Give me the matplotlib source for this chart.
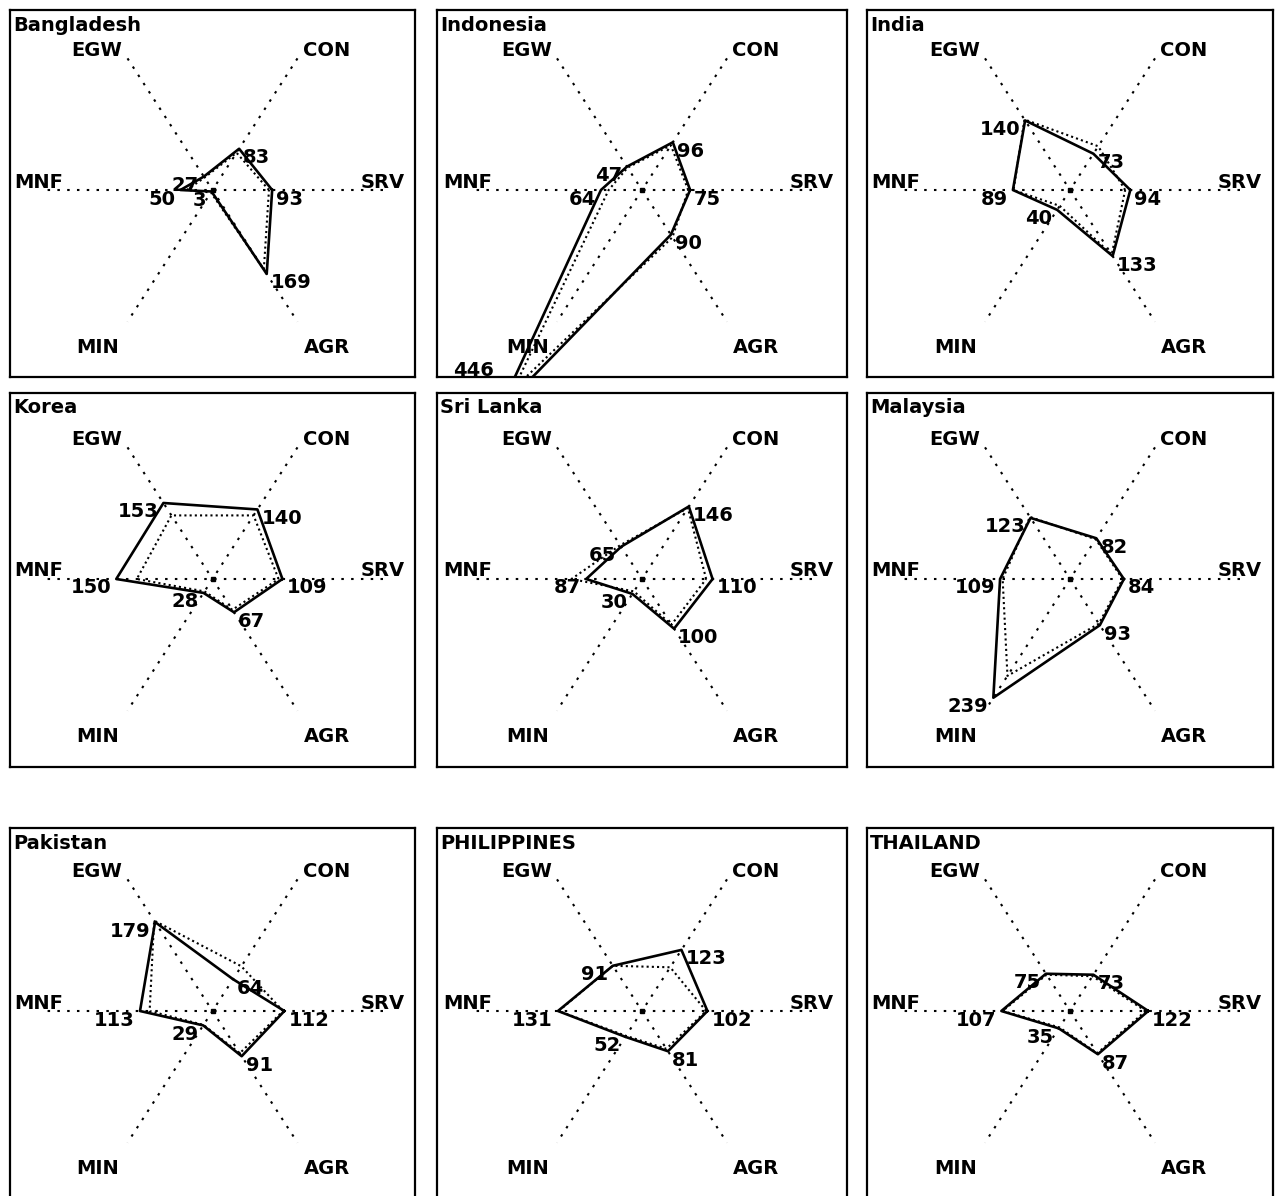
import numpy as np
import matplotlib.pyplot as plt

# 6 sectors around the star, SRV at 0 deg, counter-clockwise
sectors = ['SRV', 'CON', 'EGW', 'MNF', 'MIN', 'AGR']
angles = np.deg2rad([0, 60, 120, 180, 240, 300])
full_scale = 265.0   # value reached at end of a spoke

countries = ['Bangladesh', 'Indonesia', 'India',
             'Korea', 'Sri Lanka', 'Malaysia',
             'Pakistan', 'PHILIPPINES', 'THAILAND']

# solid line (labelled values), order SRV CON EGW MNF MIN AGR
bangladesh = [93, 83, 27, 50, 3, 169]
indonesia = [75, 96, 47, 64, 446, 90]
india = [94, 73, 140, 89, 40, 133]
korea = [109, 140, 153, 150, 28, 67]
sri_lanka = [110, 146, 65, 87, 30, 100]
malaysia = [84, 82, 123, 109, 239, 93]
pakistan = [112, 64, 179, 113, 29, 91]
philippines = [102, 123, 91, 131, 52, 81]
thailand = [122, 73, 75, 107, 35, 87]

# dotted line (unlabelled comparison values), same order
bangladesh_b = [88, 75, 25, 40, 5, 160]
indonesia_b = [72, 90, 45, 52, 400, 95]
india_b = [86, 88, 142, 88, 32, 130]
korea_b = [103, 128, 128, 118, 25, 62]
sri_lanka_b = [100, 143, 68, 110, 25, 92]
malaysia_b = [82, 80, 125, 105, 195, 90]
pakistan_b = [110, 90, 182, 98, 28, 85]
philippines_b = [100, 88, 91, 130, 50, 76]
thailand_b = [118, 70, 73, 105, 33, 85]

solid = [bangladesh, indonesia, india, korea, sri_lanka, malaysia,
         pakistan, philippines, thailand]
dotted = [bangladesh_b, indonesia_b, india_b, korea_b, sri_lanka_b, malaysia_b,
          pakistan_b, philippines_b, thailand_b]

W, H = 1280, 1196
fig = plt.figure(figsize=(W / 100, H / 100), dpi=100)
fig.patch.set_facecolor('white')

lefts = [10, 437, 867]
widths = [405, 410, 406]
tops = [10, 393, 828]
heights = [367, 374, 374]
ctops = [180, 186, 183]
sx, sy = 170.0, 152.0   # pixels per spoke length, x and y

font = dict(family='DejaVu Sans', fontweight='bold', fontsize=14, color='black')

# offsets (pixels) for sector names at spoke ends
name_pos = {'SRV': (0, 8, 'center'), 'CON': (5, 8, 'left'), 'EGW': (-5, 8, 'right'),
            'MNF': (-4, 8, 'center'), 'MIN': (-8, -26, 'right'), 'AGR': (6, -26, 'left')}

for i, name in enumerate(countries):
    r, c = divmod(i, 3)
    l, t, w, h = lefts[c], tops[r], widths[c], heights[r]
    ax = fig.add_axes([l / W, 1 - (t + h) / H, w / W, h / H])
    ax.set_xlim(-w / 2 / sx, w / 2 / sx)
    ax.set_ylim(-(h - ctops[r]) / sy, ctops[r] / sy)
    ax.set_xticks([])
    ax.set_yticks([])
    for sp in ax.spines.values():
        sp.set_linewidth(1.6)
        sp.set_color('black')

    # spokes
    for k in range(3):
        a = angles[k]
        ax.plot([np.cos(a), -np.cos(a)], [np.sin(a), -np.sin(a)],
                color='black', lw=1.5, linestyle=(0, (1.2, 3.5)))
    ax.plot(0, 0, 's', color='black', ms=3.5)

    for k, s in enumerate(sectors):
        dx, dy, ha = name_pos[s]
        ax.annotate(s, (np.cos(angles[k]), np.sin(angles[k])), xytext=(dx, dy),
                    textcoords='offset pixels', ha=ha, va='center', **font)

    # comparison polygon (dotted)
    rb = np.array(dotted[i] + [dotted[i][0]]) / full_scale
    ang = np.append(angles, angles[0])
    ax.plot(rb * np.cos(ang), rb * np.sin(ang), color='black', lw=1.5,
            linestyle=(0, (1, 1.5)))

    # main polygon (solid)
    rs = np.array(solid[i] + [solid[i][0]]) / full_scale
    ax.plot(rs * np.cos(ang), rs * np.sin(ang), color='black', lw=1.9)

    ylo = ax.get_ylim()[0]
    for k, v in enumerate(solid[i]):
        x = v / full_scale * np.cos(angles[k])
        y = max(v / full_scale * np.sin(angles[k]), ylo + 0.1)
        if k in (0, 1, 5):
            ax.annotate(str(v), (x, y), xytext=(4, -9), textcoords='offset pixels',
                        ha='left', va='center', **font)
        else:
            ax.annotate(str(v), (x, y), xytext=(-5, -9), textcoords='offset pixels',
                        ha='right', va='center', **font)

    ax.annotate(name, (0, 1), xycoords='axes fraction', xytext=(3, -15),
                textcoords='offset pixels', ha='left', va='center', **font)

fig.savefig('out.png', dpi=100, facecolor='white')
